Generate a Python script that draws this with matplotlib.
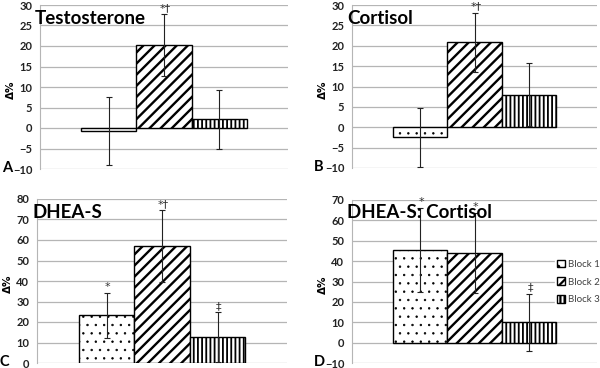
import matplotlib.pyplot as plt

plt.rcParams['font.family'] = ['Lato', 'DejaVu Sans']
plt.rcParams['hatch.linewidth'] = 1.6

blocks = ['Block 1', 'Block 2', 'Block 3']
hatches = ['..', '///', '||||']
hatch_lw = [0.5, 1.7, 1.3]

# panel data: mean % change and error (+/-)
testosterone = [-0.7, 20.2, 2.1]
testosterone_err = [8.3, 7.5, 7.1]
testosterone_sig = ['', '*\u2020', '']

cortisol = [-2.5, 20.8, 8.0]
cortisol_err = [7.3, 7.3, 7.7]
cortisol_sig = ['', '*\u2020', '']

dheas = [23.2, 57.0, 12.5]
dheas_err = [11.0, 17.5, 12.2]
dheas_sig = ['*', '*\u2020', '\u2021']

ratio = [45.5, 44.0, 10.0]
ratio_err = [20.5, 19.5, 14.0]
ratio_sig = ['*', '*', '\u2021']

panels = [
    ('Testosterone', 'A', testosterone, testosterone_err, testosterone_sig, (-10, 30, 5), [40, 5, 288, 169]),
    ('Cortisol', 'B', cortisol, cortisol_err, cortisol_sig, (-10, 30, 5), [352, 5, 597, 168]),
    ('DHEA-S', 'C', dheas, dheas_err, dheas_sig, (0, 80, 10), [37, 199, 287, 363]),
    ('DHEA-S: Cortisol', 'D', ratio, ratio_err, ratio_sig, (-10, 70, 10), [352, 200, 597, 363]),
]

W, H = 600, 368
fig = plt.figure(figsize=(6, 3.68), dpi=100)

xpos = [-0.222, 0.0, 0.222]
width = 0.222

for title, letter, vals, errs, sigs, (lo, hi, step), (x0, y0, x1, y1) in panels:
    ax = fig.add_axes([x0 / W, 1 - y1 / H, (x1 - x0) / W, (y1 - y0) / H])
    for i in range(3):
        with plt.rc_context({'hatch.linewidth': hatch_lw[i]}):
            ax.bar(xpos[i], vals[i], width, color='white', edgecolor='black',
                   linewidth=1.0, hatch=hatches[i], label=blocks[i], zorder=2)
        ax.errorbar(xpos[i], vals[i], yerr=errs[i], color='#222222', lw=0.8,
                    capsize=2.5, capthick=0.8, zorder=3)
        if sigs[i]:
            ax.annotate(sigs[i], (xpos[i], vals[i] + errs[i]), xytext=(1, 1),
                        textcoords='offset points', ha='center', va='bottom',
                        fontsize=8, family='DejaVu Sans', color='#333333',
                        annotation_clip=False)
    ax.set_xlim(-0.5, 0.5)
    ax.set_ylim(lo, hi)
    ax.set_yticks(range(lo, hi + 1, step))
    ax.set_xticks([])
    ax.grid(axis='y', color='#b5b5b5', lw=0.9, zorder=0)
    ax.set_axisbelow(True)
    for s in ['top', 'right', 'bottom']:
        ax.spines[s].set_visible(False)
    ax.spines['left'].set_color('#b5b5b5')
    ax.tick_params(axis='y', length=0, pad=5.5, labelsize=8, labelcolor='#222222')
    for t in ax.get_yticklabels():
        t.set_fontweight('bold')

    fig.text((x0 - 5) / W, 1 - (y0 + 13) / H, title, fontsize=13.5,
             fontweight='bold', va='center', ha='left')
    fig.text((x0 - 38) / W, 1 - (y1 - 1) / H, letter, fontsize=10.5,
             fontweight='bold', va='center', ha='left')
    fig.text((x0 - 29) / W, 1 - ((y0 + y1) / 2 + 3) / H, '\u0394%', fontsize=7.5,
             fontweight='bold', rotation=90, va='center', ha='center',
             family='DejaVu Sans')

    if letter == 'D':
        ax.legend(loc='center left', bbox_to_anchor=(0.83, 0.497), fontsize=7,
                  frameon=True, edgecolor='white', framealpha=1,
                  handlelength=0.8, handleheight=0.8, handletextpad=0.3,
                  labelspacing=0.9, borderpad=0.2, borderaxespad=0,
                  labelcolor='#404040')

plt.savefig('out.png', dpi=100)
